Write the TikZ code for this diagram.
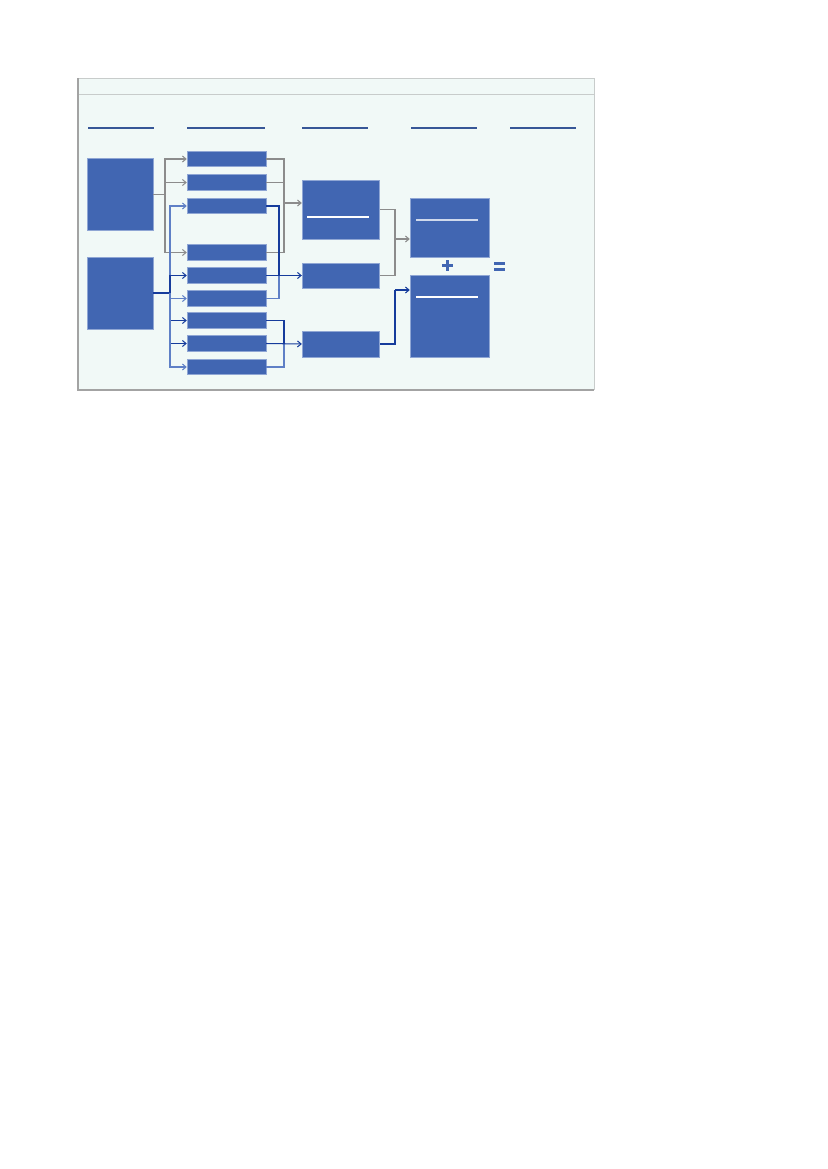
\documentclass[tikz,border=0pt]{standalone}
\usetikzlibrary{arrows.meta}
\definecolor{panel}{HTML}{F1F9F7}
\definecolor{boxblue}{HTML}{4166B2}
\definecolor{boxedge}{HTML}{8FA6D4}
\definecolor{linkgray}{HTML}{8C8C8C}
\definecolor{linkdark}{HTML}{163C9C}
\definecolor{linklight}{HTML}{5F80C6}
\definecolor{rulegray}{HTML}{C8CCCB}
\tikzset{
  box/.style={fill=boxblue, draw=boxedge, line width=0.5pt, inner sep=0pt},
  smallbox/.style={box, minimum width=56.9pt, minimum height=11.2pt},
  midbox/.style={box, minimum width=56.1pt},
  bigbox/.style={box, minimum width=56.9pt},
  link/.style={line width=0.75pt, >={Straight Barb[length=2.6pt,width=4.4pt]}},
  heading/.style={draw=boxblue!85!black, line width=1.1pt},
}
\begin{document}
\begin{tikzpicture}[x=0.025393cm, y=-0.025393cm]
	\useasboundingbox (0,0) rectangle (827,1169);
	% draw the frame
	\fill[panel] (78,78) rectangle (594,390);
	\draw[rulegray, line width=0.6pt] (78,78) -- (594,78) -- (594,390);
	\draw[rulegray, line width=0.6pt] (78,94) -- (594,94);
	\draw[linkgray!80, line width=0.8pt] (78,78) -- (78,390) -- (594,390);

	% the column headings
	\draw[heading] (88,128) -- (154,128);
	\draw[heading] (187,128) -- (265,128);
	\draw[heading] (302,128) -- (368,128);
	\draw[heading] (411,128) -- (477,128);
	\draw[heading] (510,128) -- (576,128);

	% the boxes
	\node[box, minimum width=47.5pt, minimum height=52.5pt] (src1) at (120,194.5) {};
	\node[box, minimum width=47.5pt, minimum height=51.8pt] (src2) at (120,293) {};

	\node[smallbox] (s1) at (226.5,159) {};
	\node[smallbox] (s2) at (226.5,182.5) {};
	\node[smallbox] (s3) at (226.5,206) {};
	\node[smallbox] (s4) at (226.5,252.5) {};
	\node[smallbox] (s5) at (226.5,275.5) {};
	\node[smallbox] (s6) at (226.5,298.5) {};
	\node[smallbox] (s7) at (226.5,320.5) {};
	\node[smallbox] (s8) at (226.5,343.5) {};
	\node[smallbox] (s9) at (226.5,367) {};

	\node[midbox, minimum height=42.5pt] (m1) at (341,209.5) {};
	\node[midbox, minimum height=18pt] (m2) at (341,275.5) {};
	\node[midbox, minimum height=18.7pt] (m3) at (341,344) {};

	\node[bigbox, minimum height=42.5pt] (r1) at (449.5,227.5) {};
	\node[bigbox, minimum height=59.7pt] (r2) at (449.5,316.5) {};

	% the rules inside the boxes
	\draw[white, line width=0.8pt] (307,217) -- (369,217);
	\draw[white!75!boxblue, line width=0.8pt] (416,220) -- (478,220);
	\draw[white, line width=0.8pt] (416,297) -- (478,297);

	% the junctions
	\coordinate (g1) at (165,194.5);
	\coordinate (b1) at (170,293);
	\coordinate (g2) at (284,203);
	\coordinate (b2) at (279,275.5);
	\coordinate (b3) at (284,343.5);
	\coordinate (g3) at (395,239);
	\coordinate (b4) at (395,290);

	% draw the arrows
	\draw[link, linkgray] (src1.east) -- (g1);
	\draw[link, linkgray, ->] (g1) |- (s1.west);
	\draw[link, linkgray, ->] (g1) |- (s2.west);
	\draw[link, linkgray, ->] (g1) |- (s4.west);

	\draw[link, linkdark, line width=1.5pt] (src2.east) -- (b1);
	\draw[link, linklight, ->] (b1) |- (s3.west);
	\draw[link, linkdark, ->] (b1) |- (s5.west);
	\draw[link, linklight, ->] (b1) |- (s6.west);
	\draw[link, linkdark, ->] (b1) |- (s7.west);
	\draw[link, linkdark, ->] (b1) |- (s8.west);
	\draw[link, linklight, ->] (b1) |- (s9.west);

	\draw[link, linkgray] (s1.east) -| (g2);
	\draw[link, linkgray] (s2.east) -| (g2);
	\draw[link, linkgray] (s4.east) -| (g2);
	\draw[link, linkgray, ->] (g2) -- (g2 -| m1.west);

	\draw[link, linkdark] (s3.east) -| (b2);
	\draw[link, linklight] (s6.east) -| (b2);
	\draw[link, linkdark, ->] (s5.east) -- (m2.west);

	\draw[link, linkdark] (s7.east) -| (b3);
	\draw[link, linklight] (s9.east) -| (b3);
	\draw[link, linkdark, ->] (s8.east) -- (m3.west);

	\draw[link, linkgray] (m1.east) -| (g3);
	\draw[link, linkgray] (m2.east) -| (g3);
	\draw[link, linkgray, ->] (g3) -- (g3 -| r1.west);

	\draw[link, linkdark] (m3.east) -| (b4);
	\draw[link, linkdark, ->] (b4) -- (b4 -| r2.west);

	% the plus and the equals
	\draw[boxblue, line width=2.2pt] (442,265.5) -- (453,265.5);
	\draw[boxblue, line width=2.2pt] (447.5,260) -- (447.5,271);
	\fill[boxblue] (494,262) rectangle (505,265.2);
	\fill[boxblue] (494,268) rectangle (505,271.2);
\end{tikzpicture}
\end{document}
